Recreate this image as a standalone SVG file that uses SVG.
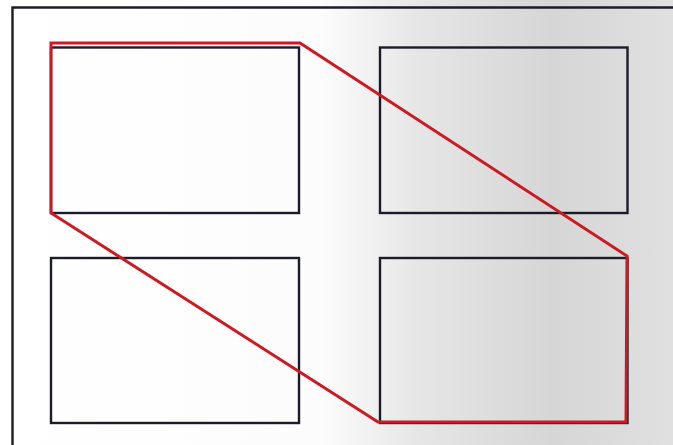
<svg xmlns="http://www.w3.org/2000/svg" width="673" height="445" viewBox="0 0 673 445">
  <defs>
    <linearGradient id="page" x1="0" y1="0" x2="1" y2="0">
      <stop offset="0" stop-color="#ffffff"/>
      <stop offset="0.48" stop-color="#fcfcfc"/>
      <stop offset="0.62" stop-color="#e6e6e6"/>
      <stop offset="0.82" stop-color="#d6d6d6"/>
      <stop offset="1" stop-color="#e0e0e0"/>
    </linearGradient>
    <style>
      .box { fill: none; stroke: #1b1c2a; stroke-width: 2.4; }
      .frame { fill: none; stroke: #1b1c2a; stroke-width: 2.4; }
      .path { fill: none; stroke: #cc1a22; stroke-width: 3; stroke-linejoin: miter; }
    </style>
  </defs>
  <rect x="0" y="0" width="673" height="445" fill="url(#page)"/>
  <path class="frame" d="M12.5,460 V7.5 H690"/>
  <g id="box-top-left"><rect class="box" x="51" y="47.5" width="248" height="165.5"/></g>
  <g id="box-top-right"><rect class="box" x="380" y="47.5" width="247.5" height="165.5"/></g>
  <g id="box-bottom-left"><rect class="box" x="51" y="258" width="248" height="165"/></g>
  <g id="box-bottom-right"><rect class="box" x="380" y="258" width="247.5" height="165"/></g>
  <g id="connectors">
    <polygon class="path" points="51,43 300,43 627,256 626,422 378,422 51,213"/>
  </g>
</svg>
